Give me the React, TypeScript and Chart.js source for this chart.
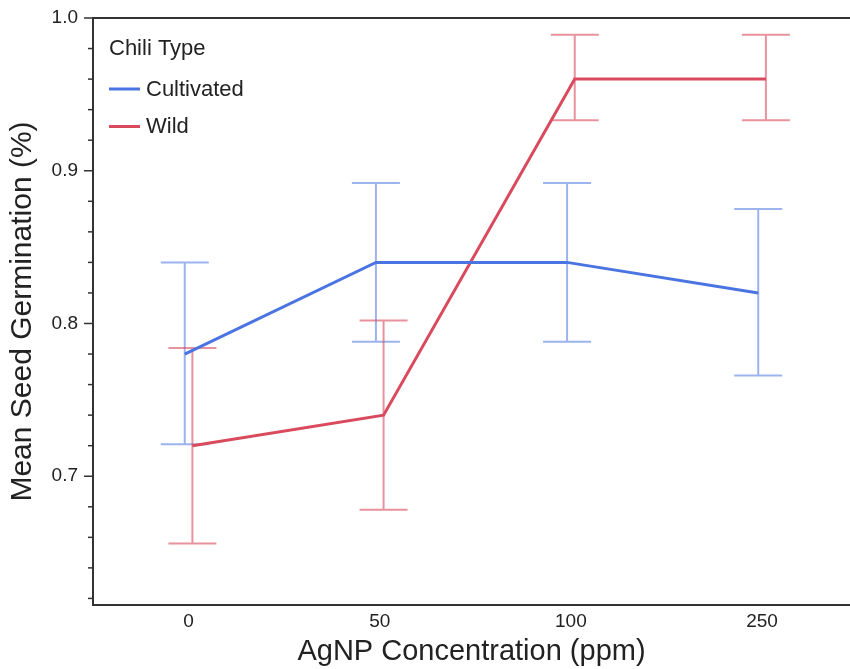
import React, { useEffect, useRef } from "react";
import { Chart, registerables } from "chart.js";

Chart.register(...registerables);

const categories = ["0", "50", "100", "250"];
const seriesNames = ["Cultivated", "Wild"];
const cultivatedMean = [0.78, 0.84, 0.84, 0.82];
const cultivatedLow = [0.721, 0.788, 0.788, 0.766];
const cultivatedHigh = [0.84, 0.892, 0.892, 0.875];
const wildMean = [0.72, 0.74, 0.96, 0.96];
const wildLow = [0.656, 0.678, 0.933, 0.933];
const wildHigh = [0.784, 0.802, 0.989, 0.989];
const yTickValues = [0.62, 0.64, 0.66, 0.68, 0.7, 0.72, 0.74, 0.76, 0.78, 0.8, 0.82, 0.84, 0.86, 0.88, 0.9, 0.92, 0.94, 0.96, 0.98, 1.0];
const legendTitle = "Chili Type";

const BLUE = "#4a74e2";
const RED = "#d94a5c";
const BLUE_ERR = "rgba(74,116,226,0.55)";
const RED_ERR = "rgba(217,74,92,0.6)";
const FONT = "'Liberation Sans', Arial, Helvetica, sans-serif";
const DODGE = 0.02;

const errorBarPlugin = {
  id: "errorBars",
  beforeDatasetsDraw(chart: any) {
    const ctx = chart.ctx;
    const xs = chart.scales.x;
    const ys = chart.scales.y;
    chart.data.datasets.forEach((ds: any) => {
      const low: number[] = ds.errLow;
      const high: number[] = ds.errHigh;
      ctx.save();
      ctx.strokeStyle = ds.errColor;
      ctx.lineWidth = 2;
      ds.data.forEach((p: any, i: number) => {
        const x = xs.getPixelForValue(p.x);
        const y1 = ys.getPixelForValue(low[i]);
        const y2 = ys.getPixelForValue(high[i]);
        ctx.beginPath();
        ctx.moveTo(x, y1);
        ctx.lineTo(x, y2);
        ctx.moveTo(x - 24, y1);
        ctx.lineTo(x + 24, y1);
        ctx.moveTo(x - 24, y2);
        ctx.lineTo(x + 24, y2);
        ctx.stroke();
      });
      ctx.restore();
    });
  },
};

const framePlugin = {
  id: "frame",
  afterDraw(chart: any) {
    const ctx = chart.ctx;
    const { left, right, top } = chart.chartArea;
    const ys = chart.scales.y;
    ctx.save();
    ctx.strokeStyle = "#333";
    ctx.lineWidth = 2;
    ctx.beginPath();
    ctx.moveTo(left, top);
    ctx.lineTo(right, top);
    ctx.stroke();
    // y tick marks
    ctx.lineWidth = 1.5;
    ys.ticks.forEach((t: any) => {
      const y = ys.getPixelForValue(t.value);
      const major = Math.abs(t.value * 10 - Math.round(t.value * 10)) < 1e-6;
      const len = major ? 9 : 5;
      ctx.beginPath();
      ctx.moveTo(left - len, y);
      ctx.lineTo(left, y);
      ctx.stroke();
    });
    // legend
    ctx.fillStyle = "#222";
    ctx.textBaseline = "middle";
    ctx.textAlign = "left";
    ctx.font = `22px ${FONT}`;
    ctx.fillText(legendTitle, left + 16, 49);
    chart.data.datasets.forEach((ds: any, i: number) => {
      const y = 89 + i * 37.5;
      ctx.strokeStyle = ds.borderColor;
      ctx.lineWidth = 3;
      ctx.beginPath();
      ctx.moveTo(left + 16, y);
      ctx.lineTo(left + 47, y);
      ctx.stroke();
      ctx.fillStyle = "#222";
      ctx.fillText(ds.label, left + 53, y + 0.5);
    });
    ctx.restore();
  },
};

export default function App() {
  const ref = useRef<HTMLCanvasElement | null>(null);
  useEffect(() => {
    if (!ref.current) return;
    const mk = (vals: number[], off: number) => vals.map((v, i) => ({ x: i + off, y: v }));
    const chart = new Chart(ref.current, {
      type: "line",
      data: {
        datasets: [
          {
            label: seriesNames[0],
            data: mk(cultivatedMean, -DODGE),
            borderColor: BLUE,
            borderWidth: 3,
            pointRadius: 0,
            fill: false,
            errLow: cultivatedLow,
            errHigh: cultivatedHigh,
            errColor: BLUE_ERR,
          } as any,
          {
            label: seriesNames[1],
            data: mk(wildMean, DODGE),
            borderColor: RED,
            borderWidth: 3,
            pointRadius: 0,
            fill: false,
            errLow: wildLow,
            errHigh: wildHigh,
            errColor: RED_ERR,
          } as any,
        ],
      },
      options: {
        animation: false,
        responsive: false,
        maintainAspectRatio: false,
        layout: { padding: { top: 18, right: 0, left: 0, bottom: 0 } },
        plugins: { legend: { display: false }, tooltip: { enabled: false } },
        scales: {
          x: {
            type: "linear",
            min: -0.5,
            max: 3.46,
            afterBuildTicks: (s: any) => {
              s.ticks = categories.map((_, i) => ({ value: i }));
            },
            afterFit: (s: any) => {
              s.height = 64;
              s.paddingLeft = 0;
              s.paddingRight = 0;
            },
            ticks: {
              callback: (v: any) => categories[Math.round(Number(v))] ?? "",
              color: "#222",
              font: { size: 19, family: FONT },
              padding: 5,
              maxRotation: 0,
              autoSkip: false,
            },
            grid: { display: false, drawTicks: false },
            border: { display: true, color: "#333", width: 2 },
            title: {
              display: true,
              text: "AgNP Concentration (ppm)",
              color: "#222",
              font: { size: 29, family: FONT },
              padding: { top: 0, bottom: 0 },
            },
          },
          y: {
            type: "linear",
            min: 0.6157,
            max: 1.0,
            afterBuildTicks: (s: any) => {
              s.ticks = yTickValues.map((v) => ({ value: v }));
            },
            afterFit: (s: any) => {
              s.width = 93;
              s.paddingTop = 0;
              s.paddingBottom = 0;
            },
            ticks: {
              callback: (v: any) => {
                const n = Number(v);
                return Math.abs(n * 10 - Math.round(n * 10)) < 1e-6 ? n.toFixed(1) : "";
              },
              color: "#222",
              font: { size: 19, family: FONT },
              padding: 15,
              autoSkip: false,
            },
            grid: { display: false, drawTicks: false },
            border: { display: true, color: "#333", width: 2 },
            title: {
              display: true,
              text: "Mean Seed Germination (%)",
              color: "#222",
              font: { size: 30, family: FONT },
              padding: { top: 5, bottom: 0 },
            },
          },
        },
      },
      plugins: [errorBarPlugin, framePlugin],
    } as any);
    return () => chart.destroy();
  }, []);
  return (
    <div style={{ position: "fixed", left: 0, top: 0, width: 850, height: 669, background: "#fff" }}>
      <canvas ref={ref} width={850} height={669} style={{ width: 850, height: 669, display: "block" }} />
    </div>
  );
}
